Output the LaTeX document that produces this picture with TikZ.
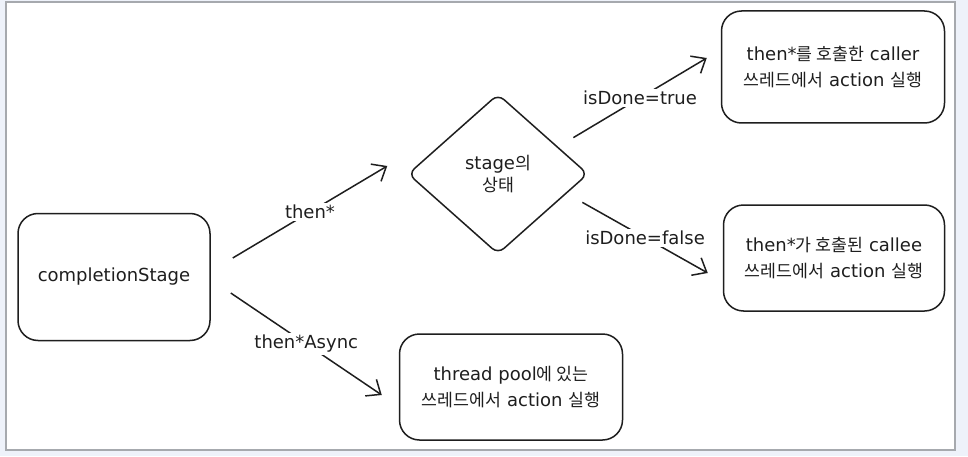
\documentclass[tikz,border=0pt]{standalone}
\usepackage{fontspec}
\setmainfont{DejaVu Sans}
\newfontfamily\kr{Noto Sans CJK KR}[Scale=0.96]
\usetikzlibrary{shapes.geometric,arrows.meta}
\definecolor{ink}{HTML}{1E1E1E}
\definecolor{frameblue}{HTML}{EEF2FA}
\definecolor{framegray}{HTML}{A6A9AE}

\begin{document}
\begin{tikzpicture}[x=1pt,y=1pt,
  box/.style={draw=ink,line width=1.5pt,rounded corners=20pt,align=center,text=ink,font=\fontsize{18}{26}\selectfont},
  flow/.style={draw=ink,line width=1.5pt,-{Straight Barb[length=12pt,width=20pt,line width=1.5pt]}},
  lbl/.style={fill=white,inner sep=2pt,text=ink,font=\fontsize{18}{20}\selectfont}]
\fill[frameblue] (0,0) rectangle (968,456);
\draw[framegray,fill=white,line width=1.2pt] (6,6) rectangle (955,454);
\useasboundingbox (0,0) rectangle (968,456);

% left start
\node (stage) at (114,179)[box,minimum width=192pt,minimum height=127pt]{completionStage};

% decision
\node (state) at (498,282)[box,diamond,rounded corners=8pt,minimum width=180pt,minimum height=160pt,font=\fontsize{18}{22}\selectfont]{stage{\kr 의}\\{\kr 상태}};

% outcomes
\node (caller) at (833,389)[box,minimum width=223pt,minimum height=112pt]{then*{\kr 를 호출한} caller\\{\kr 쓰레드에서} action {\kr 실행}};
\node (callee) at (834,198)[box,minimum width=221pt,minimum height=106pt]{then*{\kr 가 호출된} callee\\{\kr 쓰레드에서} action {\kr 실행}};
\node (pool) at (511,69)[box,minimum width=223pt,minimum height=106pt]{thread pool{\kr 에 있는}\\{\kr 쓰레드에서} action {\kr 실행}};

\draw[flow] ([shift={(22,19)}]stage.east) -- node[lbl]{then*} ([shift={(-20,8)}]state.west);
\draw[flow] ([shift={(20,-16)}]stage.east) -- node[lbl]{then*Async} ([shift={(-17,-8)}]pool.west);
\draw[flow] ([shift={(30,-4)}]state.north east) -- node[lbl]{isDone=true} ([shift={(-14,9)}]caller.west);
\draw[flow] ([shift={(39,12)}]state.south east) -- node[lbl]{isDone=false} ([shift={(-15,-15)}]callee.west);
\end{tikzpicture}
\end{document}
